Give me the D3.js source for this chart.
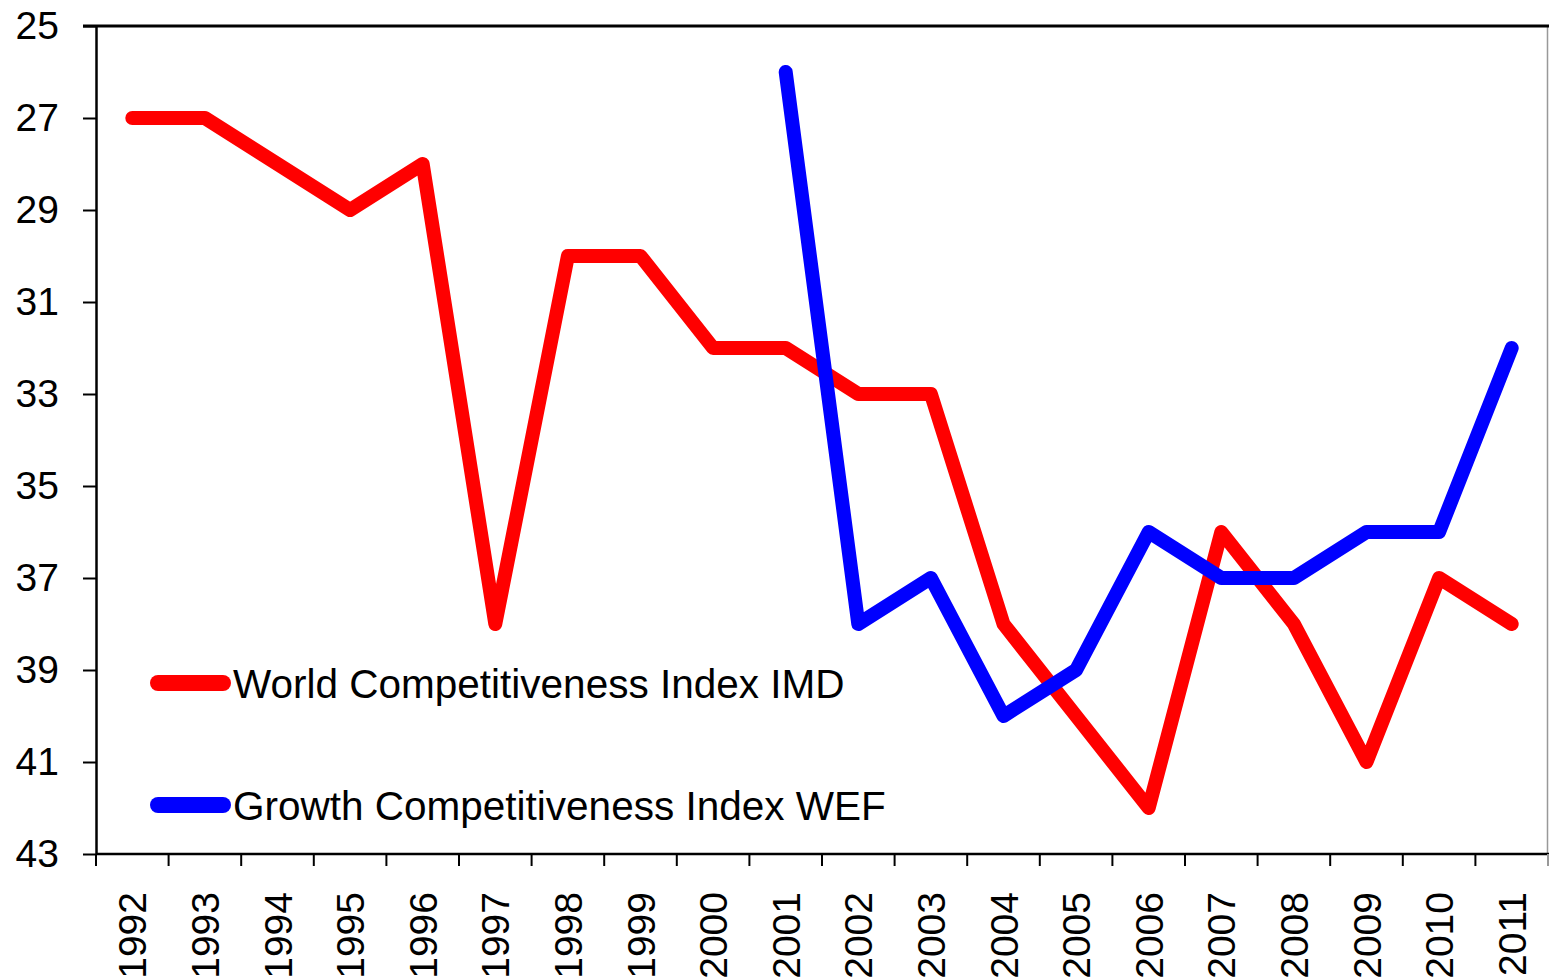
<!DOCTYPE html>
<html>
<head>
<meta charset="utf-8">
<script src="https://cdn.jsdelivr.net/npm/d3@7"></script>
<style>
  body { margin: 0; background: #fff; }
  text { font-family: "Liberation Sans", Arial, sans-serif; }
</style>
</head>
<body>
<div id="chart"></div>
<script>
let years = ["1992","1993","1994","1995","1996","1997","1998","1999","2000","2001",
             "2002","2003","2004","2005","2006","2007","2008","2009","2010","2011"];
let imd = [27, 27, 28, 29, 28, 38, 30, 30, 32, 32, 33, 33, 38, 40, 42, 36, 38, 41, 37, 38];
let wefYears = ["2001","2002","2003","2004","2005","2006","2007","2008","2009","2010","2011"];
let wef = [26, 38, 37, 40, 39, 36, 37, 37, 36, 36, 32];
let yTicks = [25, 27, 29, 31, 33, 35, 37, 39, 41, 43];
let seriesNames = ["World Competitiveness Index IMD", "Growth Competitiveness Index WEF"];
let seriesColors = ["#ff0000", "#0000ff"];

let width = 1549, height = 979;
let margin = {top: 26, left: 96, right: 1, bottom: 125};

let svg = d3.select("#chart")
    .append("svg")
    .attr("width", width)
    .attr("height", height);

let x = d3.scaleBand().domain(years).range([margin.left, width - margin.right]);
let y = d3.scaleLinear().domain([25, 43]).range([margin.top, height - margin.bottom]);

// right border
svg.append("line")
    .attr("x1", width - 1.5).attr("x2", width - 1.5)
    .attr("y1", margin.top).attr("y2", y(43))
    .attr("stroke", "#999").attr("stroke-width", 1.5);

// top border
svg.append("line")
    .attr("x1", margin.left - 13).attr("x2", width)
    .attr("y1", margin.top).attr("y2", margin.top)
    .attr("stroke", "#000").attr("stroke-width", 3);

// y axis
let yAxis = svg.append("g")
    .attr("transform", "translate(" + margin.left + ",0)")
    .call(d3.axisLeft(y).tickValues(yTicks).tickSize(13).tickPadding(24).tickSizeOuter(0));
yAxis.select(".domain").attr("stroke-width", 2.5);
yAxis.selectAll(".tick line").attr("stroke-width", 2);
yAxis.selectAll(".tick text")
    .style("font-size", "39px")
    .attr("fill", "#000");

// x axis: ticks sit on band boundaries
let xAxisG = svg.append("g").attr("transform", "translate(0," + y(43) + ")");
xAxisG.append("line")
    .attr("x1", margin.left).attr("x2", width)
    .attr("stroke", "#000").attr("stroke-width", 2.5);
let bounds = years.map(function(d) { return x(d); }).concat([x(years[years.length - 1]) + x.bandwidth()]);
xAxisG.selectAll(".xtick")
    .data(bounds)
    .enter().append("line")
    .attr("x1", function(d) { return d; }).attr("x2", function(d) { return d; })
    .attr("y1", 0).attr("y2", 12)
    .attr("stroke", function(d, i) { return i == bounds.length - 1 ? "#999" : "#000"; })
    .attr("stroke-width", 2);
xAxisG.selectAll(".xlabel")
    .data(years)
    .enter().append("text")
    .attr("transform", function(d) { return "translate(" + (x(d) + x.bandwidth() / 2) + ",38) rotate(-90)"; })
    .attr("text-anchor", "end")
    .attr("dy", "0.36em")
    .style("font-size", "39px")
    .text(function(d) { return d; });

let line = d3.line()
    .x(function(d) { return x(d[0]) + x.bandwidth() / 2; })
    .y(function(d) { return y(d[1]); });

svg.append("path")
    .datum(years.map(function(d, i) { return [d, imd[i]]; }))
    .attr("d", line)
    .attr("fill", "none")
    .attr("stroke", seriesColors[0])
    .attr("stroke-width", 14)
    .attr("stroke-linejoin", "round")
    .attr("stroke-linecap", "round");

svg.append("path")
    .datum(wefYears.map(function(d, i) { return [d, wef[i]]; }))
    .attr("d", line)
    .attr("fill", "none")
    .attr("stroke", seriesColors[1])
    .attr("stroke-width", 14)
    .attr("stroke-linejoin", "round")
    .attr("stroke-linecap", "round");

// legend
let legend = svg.selectAll(".legend")
    .data(seriesNames)
    .enter().append("g")
    .attr("transform", function(d, i) { return "translate(158," + (683 + i * 122) + ")"; });
legend.append("line")
    .attr("x1", 0).attr("x2", 65)
    .attr("stroke", function(d, i) { return seriesColors[i]; })
    .attr("stroke-width", 16)
    .attr("stroke-linecap", "round");
legend.append("text")
    .attr("x", 75)
    .attr("dy", "0.36em")
    .style("font-size", "40.5px")
    .text(function(d) { return d; });
</script>
</body>
</html>
